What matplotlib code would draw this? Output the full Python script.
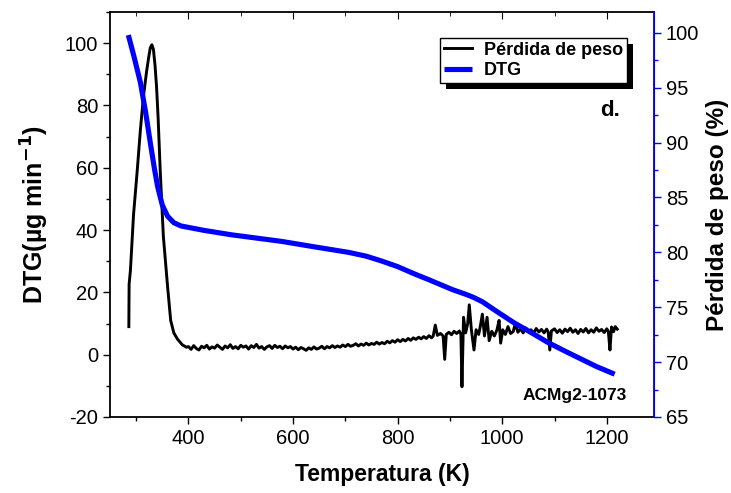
import numpy as np
import matplotlib.pyplot as plt
from matplotlib.ticker import MultipleLocator
from matplotlib.patches import Rectangle
from matplotlib.transforms import IdentityTransform

plt.rcParams['font.family'] = ['Liberation Sans', 'DejaVu Sans']
plt.rcParams['axes.unicode_minus'] = False

# DTG curve (left axis): main peak
peak_T = [286, 286.5, 289, 295, 302, 308, 314, 320, 324, 327, 330, 333, 336, 339, 342, 346, 352, 360, 366,
          372, 379, 388, 396]
peak_v = [9, 22.6, 27, 45, 59, 72, 83, 91, 95.5, 98.5, 99.5, 98, 93, 86, 76, 59, 38, 22, 11, 7, 5, 3.2, 2.4]

# flat noisy part 400-865 K (5 K steps)
flat_T = np.arange(400, 866, 5)
flat_v = [2.6, 1.7, 2.9, 2.0, 1.5, 2.7, 2.2, 3.0, 1.8, 2.5, 2.1, 3.1, 2.4, 1.7, 2.8, 2.2, 3.2, 2.0, 2.6, 1.9,
          3.0, 2.4, 2.8, 1.8, 2.9, 2.3, 3.3, 2.1, 2.6, 1.7, 2.5, 2.9, 2.0, 3.0, 2.3, 2.7, 1.9, 2.8, 2.2, 2.6,
          1.8, 2.4, 1.6, 2.3, 1.9, 1.4, 2.2, 1.7, 2.5, 1.8, 2.1, 2.7, 1.9, 2.6, 2.2, 2.9, 2.3, 2.8, 2.4, 3.1,
          2.6, 3.3, 2.7, 3.0, 3.5, 2.8, 3.4, 3.0, 3.7, 3.1, 3.6, 3.3, 4.0, 3.4, 3.9, 3.5, 4.3, 3.8, 4.5, 4.0,
          4.8, 4.2, 4.9, 4.4, 5.2, 4.6, 5.4, 4.9, 5.6, 5.1, 5.8, 5.2, 6.1, 5.4]

# spiky part 866-1025 K
spike_T = [868, 872, 876, 882, 887, 890, 893, 898, 903, 908, 913, 918, 921, 923, 926, 930, 934, 937, 941,
           946, 950, 955, 958, 962, 966, 971, 975, 980, 985, 990, 994, 997, 1001, 1006, 1011, 1016, 1021, 1025]
spike_v = [6.0, 9.5, 6.2, 6.8, 6.0, -1.5, 6.5, 7.2, 6.4, 7.5, 6.8, 7.6, 6.5, -10.3, 12, 7, 10, 16, 8,
           1.5, 8, 6.5, 9, 13, 6, 12, 4.5, 7.5, 6, 8, 11, 3.7, 8, 6.5, 9, 6.8, 7.4, 10]

# tail 1030-1220 K
tail_T = [1030, 1035, 1040, 1045, 1050, 1055, 1060, 1065, 1070, 1075, 1080, 1085, 1088, 1091, 1094, 1100,
          1105, 1110, 1115, 1120, 1125, 1130, 1135, 1140, 1145, 1150, 1155, 1160, 1165, 1170, 1175, 1180,
          1185, 1190, 1195, 1200, 1203, 1206, 1209, 1213, 1216, 1220]
tail_v = [7.2, 8.3, 7.0, 8.6, 7.4, 8.0, 6.9, 8.4, 7.3, 8.1, 7.0, 8.2, 7.2, 1.5, 7.6, 8.3,
          7.1, 8.0, 6.9, 8.2, 7.4, 8.5, 7.2, 8.0, 6.8, 8.1, 7.3, 8.4, 7.0, 8.0, 7.2, 8.6,
          7.5, 8.1, 7.1, 8.3, 7.4, 1.5, 8.9, 7.4, 9.0, 8.2]

# weight loss curve (right axis)
wl_T = [285, 295, 308, 318, 327, 335, 341, 350, 360, 372, 386, 430, 482, 530, 578, 641, 706, 740, 770,
        800, 834, 860, 885, 905, 929, 945, 962, 990, 1022, 1055, 1087, 1120, 1150, 1180, 1215]
wl_v = [99.8, 98.0, 95.5, 92.8, 90.0, 87.6, 86.0, 84.3, 83.3, 82.7, 82.4, 82.0, 81.6, 81.3, 81.0, 80.5,
        80.0, 79.65, 79.2, 78.7, 78.0, 77.5, 77.0, 76.6, 76.2, 75.9, 75.5, 74.6, 73.6, 72.7, 71.8, 71.0,
        70.3, 69.6, 68.9]

dtg_T = list(peak_T) + list(flat_T) + spike_T + tail_T
dtg_v = peak_v + flat_v + spike_v + tail_v

fig = plt.figure(figsize=(7.31, 4.93), dpi=100)
ax = fig.add_axes([0.1505, 0.1542, 0.744, 0.8215])
ax2 = ax.twinx()

l1, = ax.plot(dtg_T, dtg_v, color='black', lw=2.1)
l2, = ax2.plot(wl_T, wl_v, color='#0000ff', lw=3.7, solid_capstyle='butt')

ax.set_xlim(250, 1290)
ax.set_ylim(-20, 110)
ax2.set_ylim(65, 101.9)

ax.xaxis.set_major_locator(MultipleLocator(200))
ax.xaxis.set_minor_locator(MultipleLocator(100))
ax.yaxis.set_major_locator(MultipleLocator(20))
ax.yaxis.set_minor_locator(MultipleLocator(10))
ax2.yaxis.set_major_locator(MultipleLocator(5))
ax2.yaxis.set_minor_locator(MultipleLocator(2.5))

fs = 14.5
ax.tick_params(axis='x', which='both', direction='out', top=False, labelsize=fs)
ax.tick_params(axis='x', which='major', length=5, width=1)
ax.tick_params(axis='x', which='minor', length=3, width=1)
ax.tick_params(axis='y', which='major', direction='out', length=5, width=1, labelsize=fs)
ax.tick_params(axis='y', which='minor', direction='out', length=3, width=1)
ax2.tick_params(axis='y', which='major', colors='#0000ff', length=5, width=1, labelsize=fs, labelcolor='black')
ax2.tick_params(axis='y', which='minor', colors='#0000ff', length=3, width=1)

# inward ticks on top spine
secx = ax.secondary_xaxis('top')
secx.xaxis.set_major_locator(MultipleLocator(200))
secx.xaxis.set_minor_locator(MultipleLocator(100))
secx.tick_params(which='both', direction='in', labeltop=False)
secx.tick_params(which='major', length=5)
secx.tick_params(which='minor', length=3)
secx.spines['top'].set_visible(False)

for s in ['left', 'bottom', 'top']:
    ax.spines[s].set_linewidth(1.3)
ax2.spines['right'].set_color('#0000ff')
ax2.spines['right'].set_linewidth(1.3)
ax2.spines['left'].set_visible(False)
ax2.spines['top'].set_visible(False)
ax2.spines['bottom'].set_visible(False)

ax.set_xlabel('Temperatura (K)', fontsize=16.5, fontweight='bold', labelpad=11)
ax.set_ylabel('DTG(µg min$^{\\mathbf{-1}}$)', fontsize=18, fontweight='bold', labelpad=10)
ax2.set_ylabel('Pérdida de peso (%)', fontsize=17.5, fontweight='bold', labelpad=5)

leg = ax2.legend([l1, l2], ['Pérdida de peso', 'DTG'], loc='upper right', bbox_to_anchor=(0.95, 0.936),
                 borderaxespad=0, fancybox=False, edgecolor='black', framealpha=1,
                 prop={'weight': 'bold', 'size': 13},
                 handlelength=1.55, handletextpad=0.66, borderpad=0.2, labelspacing=0.2)
leg.get_frame().set_linewidth(1)

ax2.text(0.92, 0.757, 'd.', transform=ax.transAxes, ha='center', va='center',
         fontsize=16, fontweight='bold')
ax2.text(0.855, 0.054, 'ACMg2-1073', transform=ax.transAxes, ha='center', va='center',
         fontsize=12.5, fontweight='bold')

# solid black drop shadow behind the legend
fig.canvas.draw()
bb = leg.get_window_extent()
shadow = Rectangle((bb.x0 + 6, bb.y0 - 6), bb.width, bb.height, transform=IdentityTransform(),
                   facecolor='black', edgecolor='none', zorder=4.9, clip_on=False)
ax2.add_artist(shadow)

fig.savefig('out.png', dpi=100)
